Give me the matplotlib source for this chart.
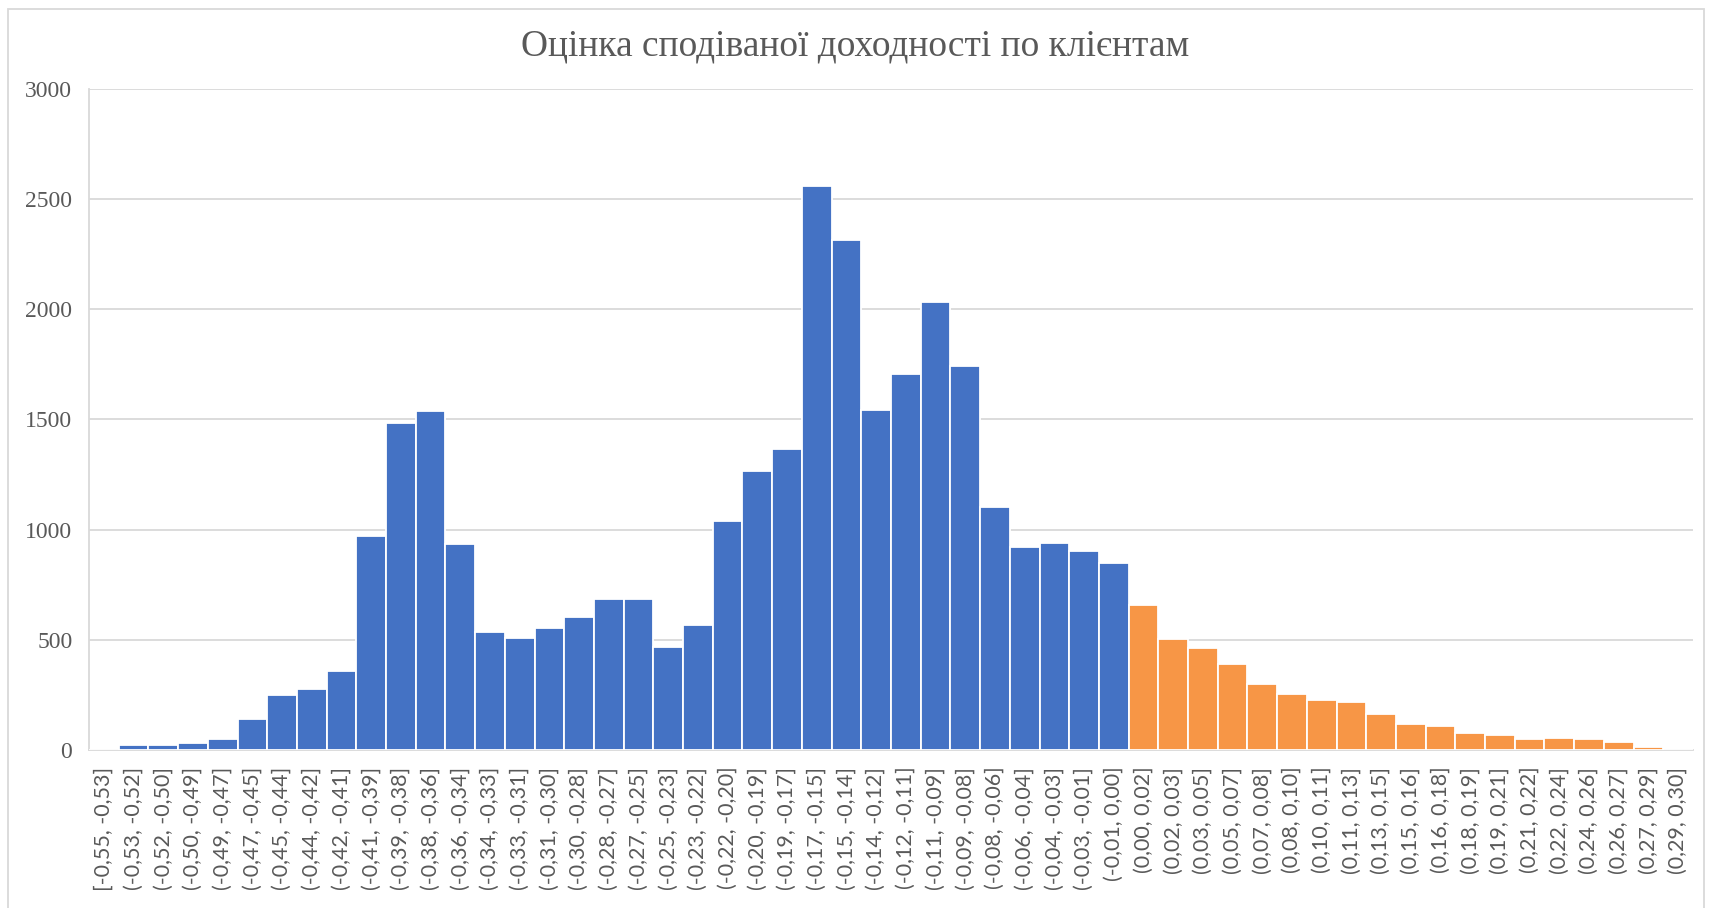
import matplotlib
matplotlib.use("Agg")
import matplotlib.pyplot as plt
from matplotlib.patches import Rectangle

# ==========================
# DATA
# ==========================
title = "Оцінка сподіваної доходності по клієнтам"

bins = [
    "[-0,55, -0,53]", "(-0,53, -0,52]", "(-0,52, -0,50]", "(-0,50, -0,49]",
    "(-0,49, -0,47]", "(-0,47, -0,45]", "(-0,45, -0,44]", "(-0,44, -0,42]",
    "(-0,42, -0,41]", "(-0,41, -0,39]", "(-0,39, -0,38]", "(-0,38, -0,36]",
    "(-0,36, -0,34]", "(-0,34, -0,33]", "(-0,33, -0,31]", "(-0,31, -0,30]",
    "(-0,30, -0,28]", "(-0,28, -0,27]", "(-0,27, -0,25]", "(-0,25, -0,23]",
    "(-0,23, -0,22]", "(-0,22, -0,20]", "(-0,20, -0,19]", "(-0,19, -0,17]",
    "(-0,17, -0,15]", "(-0,15, -0,14]", "(-0,14, -0,12]", "(-0,12, -0,11]",
    "(-0,11, -0,09]", "(-0,09, -0,08]", "(-0,08, -0,06]", "(-0,06, -0,04]",
    "(-0,04, -0,03]", "(-0,03, -0,01]", "(-0,01, 0,00]", "(0,00, 0,02]",
    "(0,02, 0,03]", "(0,03, 0,05]", "(0,05, 0,07]", "(0,07, 0,08]",
    "(0,08, 0,10]", "(0,10, 0,11]", "(0,11, 0,13]", "(0,13, 0,15]",
    "(0,15, 0,16]", "(0,16, 0,18]", "(0,18, 0,19]", "(0,19, 0,21]",
    "(0,21, 0,22]", "(0,22, 0,24]", "(0,24, 0,26]", "(0,26, 0,27]",
    "(0,27, 0,29]", "(0,29, 0,30]",
]

counts = [
    0, 22, 22, 31, 49, 139, 250, 275, 358, 970,
    1485, 1540, 933, 536, 509, 552, 605, 686, 686, 468,
    568, 1040, 1268, 1368, 2560, 2315, 1543, 1705, 2032, 1742,
    1105, 922, 941, 905, 848, 658, 505, 461, 390, 299,
    254, 227, 218, 164, 119, 111, 76, 66, 48, 55,
    48, 37, 12, 0,
]

y_ticks = [0, 500, 1000, 1500, 2000, 2500, 3000]

# loss bins blue, profit bins orange
BLUE = "#4472C4"
ORANGE = "#F79646"
colors = [ORANGE if b.startswith("(0") else BLUE for b in bins]

TEXT_GRAY = "#595959"
GRID_GRAY = "#d9d9d9"


# ==========================
# PLOT
# ==========================
fig = plt.figure(figsize=(17.1, 9.08), dpi=100)
ax = fig.add_axes([89 / 1710, 1 - 750 / 908, (1693 - 89) / 1710, (750 - 89) / 908])

x = list(range(len(bins)))
ax.bar(x, counts, width=1.0, color=colors, edgecolor="white", linewidth=1.3, zorder=3)

ax.set_xlim(-0.5, len(bins) - 0.5)
ax.set_ylim(0, 3000)

ax.set_yticks(y_ticks)
ax.set_yticklabels([str(v) for v in y_ticks], family="Liberation Serif",
                   fontsize=17, color=TEXT_GRAY)
ax.set_xticks(x)
ax.set_xticklabels(bins, rotation=90, family="Lato", fontsize=15.5,
                   color=TEXT_GRAY, va="top", ha="center")
ax.tick_params(axis="both", length=0)
ax.tick_params(axis="y", pad=12)
ax.tick_params(axis="x", pad=12)

ax.yaxis.grid(True, color=GRID_GRAY, linewidth=1.3, zorder=0)
ax.set_axisbelow(True)

for side in ["top", "right"]:
    ax.spines[side].set_visible(False)
for side in ["left", "bottom"]:
    ax.spines[side].set_color(GRID_GRAY)
    ax.spines[side].set_linewidth(1.3)

fig.text(0.5, 1 - 46 / 908, title, family="Liberation Serif", fontsize=27,
         color=TEXT_GRAY, ha="center", va="center")

# chart area border (bottom edge runs off the picture)
fig.patches.append(Rectangle((8 / 1710, -0.02), 1 - 14 / 1710, 1.02 - 9 / 908,
                             transform=fig.transFigure, fill=False,
                             edgecolor=GRID_GRAY, linewidth=1.3))

fig.savefig("out.png", dpi=100, facecolor="white")
